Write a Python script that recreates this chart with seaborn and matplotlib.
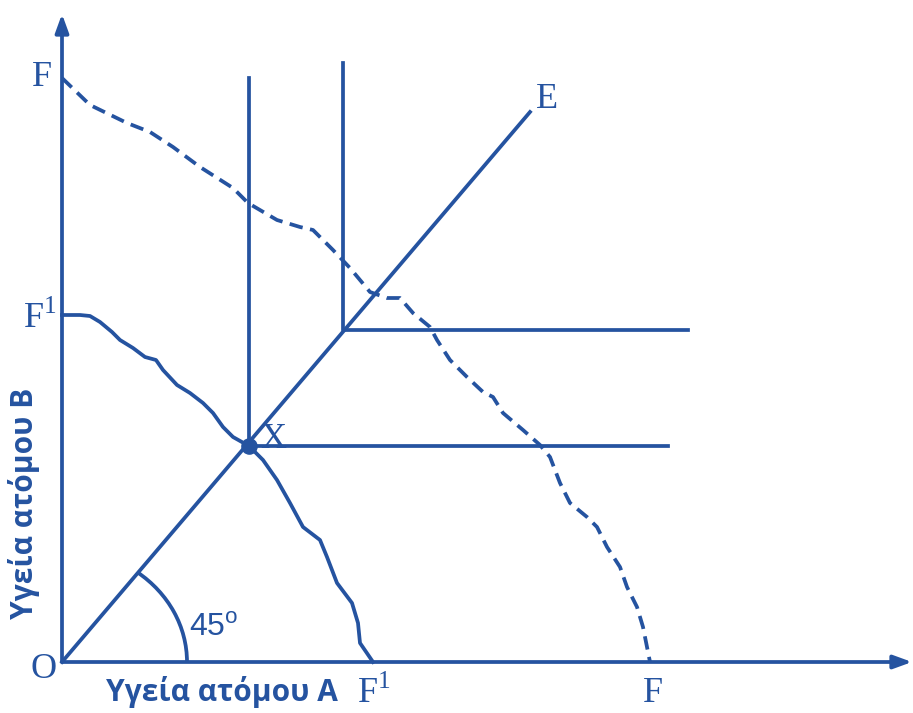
import numpy as np
import pandas as pd
import matplotlib
matplotlib.use('Agg')
import matplotlib.pyplot as plt
from matplotlib.patches import Arc
import seaborn as sns

# colour of the printed diagram
blue = '#2553A0'

# origin of the diagram in picture pixels; data are given relative to it
ox, oy = 62, 662

# possibility frontier F1-F1 (solid), pixel positions
f1_x = [62, 80, 90, 100, 112, 120, 133, 145, 156, 163, 177, 190, 203, 213, 223, 233, 249,
        263, 277, 290, 303, 320, 327, 337, 352, 358, 360, 373]
f1_y = [315, 315, 316, 322, 332, 340, 348, 357, 360, 370, 385, 393, 403, 413, 427, 437, 446,
        460, 480, 503, 527, 540, 557, 583, 603, 623, 643, 662]

# possibility frontier F-F (dashed)
f_x = [62, 90, 127, 150, 173, 200, 233, 248, 277, 300, 313, 333, 350, 370, 387, 400, 413,
       430, 437, 450, 467, 483, 493, 503, 523, 540, 550, 560, 570, 587, 597, 607, 620, 627,
       637, 643, 647, 650]
f_y = [78, 105, 123, 132, 147, 167, 188, 203, 220, 227, 230, 250, 268, 292, 298, 298, 313,
       327, 340, 360, 377, 392, 397, 413, 430, 445, 457, 483, 503, 517, 527, 547, 567, 587,
       607, 627, 647, 662]

# equality line O-E
e_x = [62, 530]
e_y = [662, 112]

# L-shaped indifference curves: corner, top of vertical arm, right end of horizontal arm
corners_x = [249, 343]
corners_y = [446, 330]
tops_y = [78, 63]
rights_x = [668, 688]


def to_data(xs, ys):
    return np.array(xs) - ox, oy - np.array(ys)


fig = plt.figure(figsize=(9.13, 7.13), dpi=100)
ax = fig.add_axes([0, 0, 1, 1])
ax.set_xlim(-ox, 913 - ox)
ax.set_ylim(oy - 713, oy)
ax.axis('off')

lw = 2.7

# frontiers
x, y = to_data(f1_x, f1_y)
sns.lineplot(x=x, y=y, sort=False, color=blue, lw=lw, ax=ax, estimator=None)
x, y = to_data(f_x, f_y)
sns.lineplot(x=x, y=y, sort=False, color=blue, lw=lw, ax=ax, estimator=None,
             linestyle=(0, (3.6, 2.0)))

# 45 degree line
x, y = to_data(e_x, e_y)
sns.lineplot(x=x, y=y, sort=False, color=blue, lw=lw, ax=ax, estimator=None)

# indifference curves
for cx, cy, ty, rx in zip(corners_x, corners_y, tops_y, rights_x):
    x, y = to_data([cx, cx, rx], [ty, cy, cy])
    sns.lineplot(x=x, y=y, sort=False, color=blue, lw=lw, ax=ax, estimator=None)

# point X
x, y = to_data([corners_x[0]], [corners_y[0]])
ax.scatter(x, y, s=120, color=blue, zorder=5)

# axes with arrow heads
ax.annotate('', xy=(912 - ox, 0), xytext=(0, 0),
            arrowprops=dict(arrowstyle='-|>,head_length=1.1,head_width=0.4', color=blue, lw=lw,
                            shrinkA=0, shrinkB=0))
ax.annotate('', xy=(0, oy - 14), xytext=(0, 0),
            arrowprops=dict(arrowstyle='-|>,head_length=1.1,head_width=0.4', color=blue, lw=lw,
                            shrinkA=0, shrinkB=0))

# 45 degree arc
ax.add_patch(Arc((0, 0), 250, 225, theta1=0, theta2=50, color=blue, lw=lw))

serif = dict(family='Liberation Serif', color=blue, fontsize=26)
ax.text(42 - ox, oy - 78, 'F', ha='center', va='center', **serif)
ax.text(40 - ox, oy - 318, 'F$^{\\mathregular{1}}$', ha='center', va='center', **serif)
ax.text(44 - ox, oy - 670, 'O', ha='center', va='center', **serif)
ax.text(374 - ox, oy - 693, 'F$^{\\mathregular{1}}$', ha='center', va='center', **serif)
ax.text(653 - ox, oy - 693, 'F', ha='center', va='center', **serif)
ax.text(547 - ox, oy - 100, 'E', ha='center', va='center', **serif)
ax.text(273 - ox, oy - 440, 'X', ha='center', va='center', **serif)
ax.text(214 - ox, oy - 628, '45$^{\\mathregular{o}}$', ha='center', va='center',
        family='Liberation Sans', color=blue, fontsize=23)

sans = dict(family='Open Sans', color=blue, fontsize=21.5, fontweight='bold')
ax.text(222 - ox, oy - 692, 'Υγεία ατόμου Α', ha='center', va='center', **sans)
ax.text(24 - ox, oy - 503, 'Υγεία ατόμου Β', ha='center', va='center', rotation=90, **sans)

fig.savefig('out.png', dpi=100)
